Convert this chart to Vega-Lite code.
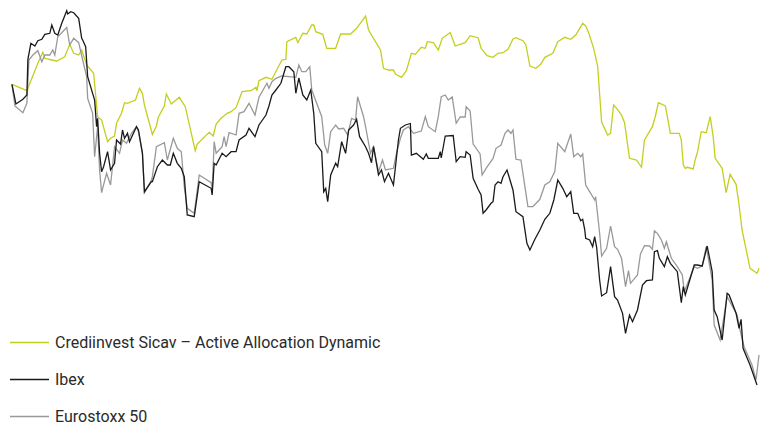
{
"$schema":"https://vega.github.io/schema/vega-lite/v6.json",
"width":762,"height":424,"padding":0,
"autosize":{"type":"fit","contains":"padding"},
"background":"#ffffff",
"config":{"view":{"stroke":null}},
"datasets":{
"C":[{"d":2,"v":0.17},{"d":17,"v":-0.47},{"d":28,"v":2.27},{"d":33,"v":3.37},{"d":35,"v":2.77},{"d":42,"v":2.6},{"d":47,"v":2.5},{"d":55,"v":2.93},{"d":60,"v":4.17},{"d":64,"v":3.27},{"d":69,"v":3.1},{"d":72,"v":3.6},{"d":77,"v":2.1},{"d":84,"v":1.27},{"d":88,"v":-3.07},{"d":92,"v":-3.4},{"d":98,"v":-5.57},{"d":101,"v":-5.23},{"d":105,"v":-5.0},{"d":107,"v":-3.73},{"d":112,"v":-2.73},{"d":115,"v":-1.67},{"d":118,"v":-1.73},{"d":126,"v":-1.4},{"d":130,"v":-0.23},{"d":133,"v":-0.73},{"d":135,"v":-1.9},{"d":143,"v":-4.83},{"d":147,"v":-4.0},{"d":149,"v":-3.1},{"d":155,"v":-2.0},{"d":157,"v":-0.8},{"d":162,"v":-1.8},{"d":170,"v":-1.13},{"d":176,"v":-2.07},{"d":186,"v":-6.47},{"d":188,"v":-5.8},{"d":200,"v":-4.63},{"d":204,"v":-5.0},{"d":207,"v":-3.8},{"d":212,"v":-3.23},{"d":218,"v":-2.73},{"d":222,"v":-2.57},{"d":227,"v":-2.17},{"d":233,"v":-0.57},{"d":242,"v":-0.47},{"d":247,"v":-0.13},{"d":248,"v":-0.47},{"d":250,"v":0.53},{"d":257,"v":0.87},{"d":263,"v":0.67},{"d":273,"v":2.6},{"d":277,"v":2.67},{"d":278,"v":4.43},{"d":287,"v":4.87},{"d":289,"v":4.33},{"d":294,"v":5.27},{"d":298,"v":5.2},{"d":303,"v":6.1},{"d":305,"v":6.1},{"d":307,"v":5.43},{"d":314,"v":5.17},{"d":318,"v":3.77},{"d":327,"v":3.77},{"d":332,"v":5.2},{"d":342,"v":5.2},{"d":348,"v":5.77},{"d":357,"v":7.0},{"d":360,"v":5.6},{"d":372,"v":3.6},{"d":375,"v":1.77},{"d":380,"v":1.6},{"d":385,"v":1.6},{"d":387,"v":1.2},{"d":393,"v":0.87},{"d":398,"v":1.53},{"d":403,"v":3.27},{"d":407,"v":3.17},{"d":413,"v":3.87},{"d":417,"v":3.77},{"d":419,"v":4.43},{"d":425,"v":4.33},{"d":430,"v":3.6},{"d":434,"v":4.77},{"d":442,"v":5.35},{"d":447,"v":4.0},{"d":457,"v":4.33},{"d":462,"v":5.03},{"d":470,"v":4.83},{"d":473,"v":3.77},{"d":479,"v":3.03},{"d":485,"v":2.87},{"d":490,"v":3.27},{"d":495,"v":3.33},{"d":500,"v":3.67},{"d":505,"v":4.7},{"d":508,"v":4.83},{"d":515,"v":4.53},{"d":518,"v":4.1},{"d":522,"v":2.0},{"d":528,"v":1.77},{"d":533,"v":2.2},{"d":537,"v":2.87},{"d":545,"v":3.27},{"d":550,"v":4.43},{"d":557,"v":4.87},{"d":563,"v":4.67},{"d":568,"v":5.1},{"d":575,"v":6.27},{"d":578,"v":6.0},{"d":581,"v":5.33},{"d":586,"v":3.77},{"d":590,"v":2.0},{"d":594,"v":-3.6},{"d":600,"v":-4.9},{"d":603,"v":-4.73},{"d":606,"v":-1.9},{"d":609,"v":-2.23},{"d":614,"v":-2.9},{"d":617,"v":-3.67},{"d":622,"v":-7.23},{"d":629,"v":-7.4},{"d":634,"v":-8.13},{"d":637,"v":-5.4},{"d":645,"v":-4.07},{"d":648,"v":-3.0},{"d":651,"v":-1.67},{"d":658,"v":-2.0},{"d":660,"v":-3.07},{"d":663,"v":-4.73},{"d":672,"v":-4.73},{"d":674,"v":-5.4},{"d":676,"v":-7.9},{"d":678,"v":-8.23},{"d":680,"v":-8.13},{"d":686,"v":-8.3},{"d":688,"v":-7.33},{"d":690,"v":-6.73},{"d":694,"v":-4.57},{"d":699,"v":-4.67},{"d":703,"v":-3.07},{"d":706,"v":-5.07},{"d":708,"v":-7.23},{"d":715,"v":-8.23},{"d":719,"v":-10.67},{"d":723,"v":-8.83},{"d":729,"v":-9.83},{"d":732,"v":-11.9},{"d":735,"v":-14.4},{"d":743,"v":-18.23},{"d":750,"v":-18.73},{"d":752,"v":-18.23}],
"I":[{"d":2,"v":0.17},{"d":6,"v":-1.8},{"d":13,"v":-1.33},{"d":17,"v":-0.9},{"d":18,"v":2.67},{"d":21,"v":4.27},{"d":25,"v":4.0},{"d":28,"v":4.53},{"d":32,"v":4.67},{"d":35,"v":5.17},{"d":40,"v":5.27},{"d":42,"v":6.1},{"d":45,"v":5.27},{"d":48,"v":5.1},{"d":52,"v":6.27},{"d":57,"v":7.53},{"d":58,"v":7.2},{"d":61,"v":7.43},{"d":64,"v":7.33},{"d":69,"v":6.77},{"d":72,"v":4.77},{"d":73,"v":4.6},{"d":76,"v":3.93},{"d":78,"v":0.93},{"d":85,"v":-1.4},{"d":87,"v":-4.07},{"d":88,"v":-3.23},{"d":90,"v":-6.73},{"d":92,"v":-8.57},{"d":94,"v":-8.07},{"d":98,"v":-6.57},{"d":101,"v":-8.4},{"d":105,"v":-7.73},{"d":107,"v":-5.4},{"d":111,"v":-5.8},{"d":113,"v":-4.4},{"d":115,"v":-5.23},{"d":118,"v":-4.73},{"d":120,"v":-5.57},{"d":127,"v":-4.07},{"d":129,"v":-4.4},{"d":133,"v":-6.73},{"d":135,"v":-10.57},{"d":142,"v":-9.57},{"d":143,"v":-9.57},{"d":148,"v":-8.07},{"d":153,"v":-7.4},{"d":158,"v":-7.9},{"d":161,"v":-7.9},{"d":164,"v":-6.73},{"d":168,"v":-7.73},{"d":172,"v":-8.23},{"d":175,"v":-9.07},{"d":178,"v":-12.9},{"d":185,"v":-13.07},{"d":190,"v":-9.57},{"d":202,"v":-10.23},{"d":203,"v":-10.9},{"d":205,"v":-7.73},{"d":207,"v":-7.9},{"d":213,"v":-6.73},{"d":217,"v":-7.07},{"d":222,"v":-6.57},{"d":227,"v":-6.57},{"d":230,"v":-5.4},{"d":237,"v":-4.9},{"d":240,"v":-4.23},{"d":246,"v":-5.07},{"d":250,"v":-3.9},{"d":257,"v":-2.9},{"d":260,"v":-2.0},{"d":263,"v":-0.9},{"d":267,"v":-0.4},{"d":272,"v":0.27},{"d":277,"v":1.93},{"d":280,"v":1.93},{"d":285,"v":1.43},{"d":287,"v":-0.73},{"d":290,"v":0.8},{"d":294,"v":-0.9},{"d":298,"v":-1.4},{"d":302,"v":-0.4},{"d":305,"v":-2.73},{"d":307,"v":-5.73},{"d":313,"v":-6.57},{"d":315,"v":-10.57},{"d":317,"v":-10.23},{"d":319,"v":-11.57},{"d":322,"v":-8.9},{"d":327,"v":-7.73},{"d":329,"v":-8.07},{"d":333,"v":-5.57},{"d":337,"v":-6.73},{"d":340,"v":-4.4},{"d":345,"v":-3.9},{"d":348,"v":-3.33},{"d":351,"v":-5.07},{"d":357,"v":-6.07},{"d":360,"v":-6.73},{"d":363,"v":-7.67},{"d":365,"v":-6.07},{"d":370,"v":-8.9},{"d":373,"v":-8.4},{"d":376,"v":-9.57},{"d":380,"v":-8.73},{"d":385,"v":-9.9},{"d":390,"v":-5.4},{"d":392,"v":-4.23},{"d":397,"v":-3.9},{"d":402,"v":-3.75},{"d":403,"v":-6.9},{"d":408,"v":-6.73},{"d":415,"v":-7.33},{"d":418,"v":-6.8},{"d":420,"v":-7.23},{"d":430,"v":-7.23},{"d":432,"v":-6.57},{"d":433,"v":-7.2},{"d":437,"v":-5.0},{"d":445,"v":-4.95},{"d":448,"v":-7.57},{"d":452,"v":-7.07},{"d":457,"v":-7.13},{"d":458,"v":-6.57},{"d":462,"v":-6.9},{"d":465,"v":-9.23},{"d":470,"v":-10.33},{"d":473,"v":-10.9},{"d":475,"v":-12.73},{"d":478,"v":-12.4},{"d":483,"v":-11.73},{"d":485,"v":-11.57},{"d":487,"v":-9.9},{"d":490,"v":-9.57},{"d":493,"v":-9.73},{"d":495,"v":-9.07},{"d":499,"v":-8.4},{"d":505,"v":-10.4},{"d":508,"v":-12.57},{"d":515,"v":-13.07},{"d":519,"v":-15.73},{"d":522,"v":-16.4},{"d":527,"v":-15.33},{"d":532,"v":-14.4},{"d":537,"v":-13.33},{"d":542,"v":-12.73},{"d":546,"v":-11.4},{"d":550,"v":-9.4},{"d":555,"v":-10.23},{"d":559,"v":-11.07},{"d":563,"v":-10.57},{"d":566,"v":-12.73},{"d":570,"v":-12.73},{"d":573,"v":-13.47},{"d":575,"v":-13.33},{"d":577,"v":-14.33},{"d":578,"v":-15.23},{"d":582,"v":-15.4},{"d":585,"v":-16.07},{"d":587,"v":-15.07},{"d":589,"v":-16.13},{"d":592,"v":-19.4},{"d":594,"v":-21.0},{"d":599,"v":-20.67},{"d":603,"v":-18.07},{"d":607,"v":-21.07},{"d":610,"v":-21.4},{"d":615,"v":-22.73},{"d":618,"v":-24.73},{"d":622,"v":-22.9},{"d":625,"v":-23.57},{"d":630,"v":-22.4},{"d":635,"v":-19.9},{"d":639,"v":-19.47},{"d":645,"v":-19.4},{"d":647,"v":-16.57},{"d":650,"v":-16.47},{"d":652,"v":-17.23},{"d":657,"v":-18.07},{"d":660,"v":-17.07},{"d":663,"v":-17.73},{"d":670,"v":-18.57},{"d":674,"v":-21.67},{"d":676,"v":-20.07},{"d":678,"v":-20.9},{"d":687,"v":-17.9},{"d":690,"v":-17.9},{"d":695,"v":-18.0},{"d":700,"v":-16.0},{"d":705,"v":-18.57},{"d":707,"v":-22.4},{"d":710,"v":-23.07},{"d":715,"v":-25.4},{"d":720,"v":-20.73},{"d":722,"v":-20.9},{"d":729,"v":-22.73},{"d":732,"v":-24.23},{"d":734,"v":-23.33},{"d":736,"v":-26.23},{"d":743,"v":-27.9},{"d":750,"v":-29.9}],
"E":[{"d":2,"v":0.17},{"d":5,"v":-2.0},{"d":13,"v":-2.67},{"d":17,"v":-1.73},{"d":19,"v":2.6},{"d":23,"v":3.1},{"d":28,"v":3.53},{"d":32,"v":2.43},{"d":35,"v":3.1},{"d":40,"v":3.1},{"d":43,"v":3.6},{"d":45,"v":3.1},{"d":48,"v":4.93},{"d":52,"v":5.33},{"d":57,"v":5.87},{"d":60,"v":4.1},{"d":64,"v":4.77},{"d":69,"v":4.33},{"d":73,"v":2.6},{"d":77,"v":0.93},{"d":78,"v":-1.23},{"d":83,"v":-2.73},{"d":85,"v":-7.07},{"d":88,"v":-4.07},{"d":90,"v":-8.4},{"d":92,"v":-10.67},{"d":97,"v":-8.73},{"d":101,"v":-9.9},{"d":105,"v":-6.07},{"d":110,"v":-6.73},{"d":113,"v":-5.4},{"d":117,"v":-5.73},{"d":122,"v":-4.73},{"d":127,"v":-4.07},{"d":129,"v":-4.57},{"d":133,"v":-6.73},{"d":135,"v":-10.67},{"d":142,"v":-9.4},{"d":143,"v":-9.07},{"d":147,"v":-6.07},{"d":155,"v":-5.67},{"d":158,"v":-7.4},{"d":164,"v":-5.23},{"d":168,"v":-6.23},{"d":172,"v":-6.57},{"d":175,"v":-10.07},{"d":178,"v":-12.23},{"d":185,"v":-12.73},{"d":190,"v":-8.9},{"d":202,"v":-9.67},{"d":203,"v":-10.4},{"d":205,"v":-5.57},{"d":207,"v":-6.73},{"d":213,"v":-6.07},{"d":215,"v":-5.07},{"d":217,"v":-6.07},{"d":220,"v":-4.67},{"d":227,"v":-4.9},{"d":230,"v":-2.73},{"d":235,"v":-2.57},{"d":240,"v":-1.73},{"d":246,"v":-2.9},{"d":250,"v":-1.13},{"d":258,"v":0.27},{"d":260,"v":-0.23},{"d":263,"v":0.43},{"d":267,"v":0.77},{"d":273,"v":1.0},{"d":280,"v":0.93},{"d":287,"v":0.87},{"d":290,"v":2.1},{"d":293,"v":1.43},{"d":297,"v":1.43},{"d":301,"v":1.93},{"d":303,"v":-0.4},{"d":313,"v":-3.07},{"d":316,"v":-5.9},{"d":319,"v":-6.73},{"d":322,"v":-4.57},{"d":327,"v":-3.9},{"d":330,"v":-4.3},{"d":335,"v":-4.23},{"d":339,"v":-4.9},{"d":343,"v":-3.23},{"d":347,"v":-3.4},{"d":349,"v":-1.07},{"d":355,"v":-3.07},{"d":357,"v":-4.07},{"d":362,"v":-6.73},{"d":365,"v":-6.07},{"d":370,"v":-8.57},{"d":374,"v":-7.4},{"d":377,"v":-8.4},{"d":385,"v":-8.23},{"d":388,"v":-6.73},{"d":392,"v":-5.23},{"d":395,"v":-4.4},{"d":400,"v":-4.07},{"d":405,"v":-4.73},{"d":413,"v":-4.5},{"d":417,"v":-3.07},{"d":420,"v":-4.07},{"d":427,"v":-4.57},{"d":430,"v":-3.07},{"d":433,"v":-1.07},{"d":437,"v":-0.9},{"d":440,"v":-1.4},{"d":444,"v":-1.1},{"d":448,"v":-3.73},{"d":452,"v":-3.1},{"d":457,"v":-3.1},{"d":458,"v":-2.07},{"d":462,"v":-2.5},{"d":465,"v":-5.8},{"d":472,"v":-6.8},{"d":474,"v":-8.9},{"d":478,"v":-8.23},{"d":485,"v":-7.25},{"d":488,"v":-6.23},{"d":493,"v":-5.9},{"d":497,"v":-4.73},{"d":500,"v":-4.4},{"d":503,"v":-4.73},{"d":505,"v":-4.4},{"d":508,"v":-7.33},{"d":513,"v":-7.4},{"d":518,"v":-10.73},{"d":520,"v":-12.07},{"d":525,"v":-12.07},{"d":532,"v":-11.33},{"d":537,"v":-9.9},{"d":542,"v":-9.57},{"d":547,"v":-8.55},{"d":550,"v":-5.73},{"d":557,"v":-6.57},{"d":563,"v":-4.8},{"d":566,"v":-7.07},{"d":570,"v":-6.73},{"d":573,"v":-7.07},{"d":575,"v":-6.8},{"d":578,"v":-9.9},{"d":582,"v":-10.57},{"d":587,"v":-11.4},{"d":588,"v":-11.07},{"d":592,"v":-14.73},{"d":594,"v":-17.0},{"d":599,"v":-16.23},{"d":603,"v":-14.0},{"d":607,"v":-16.07},{"d":610,"v":-16.33},{"d":614,"v":-17.23},{"d":618,"v":-20.07},{"d":621,"v":-18.47},{"d":623,"v":-19.73},{"d":630,"v":-18.9},{"d":633,"v":-16.8},{"d":637,"v":-15.97},{"d":642,"v":-16.0},{"d":645,"v":-16.33},{"d":647,"v":-14.47},{"d":650,"v":-14.73},{"d":654,"v":-15.4},{"d":657,"v":-16.23},{"d":659,"v":-15.57},{"d":662,"v":-16.57},{"d":664,"v":-17.23},{"d":670,"v":-18.07},{"d":675,"v":-18.9},{"d":677,"v":-20.57},{"d":687,"v":-18.07},{"d":690,"v":-18.23},{"d":695,"v":-18.0},{"d":699,"v":-16.07},{"d":705,"v":-19.4},{"d":707,"v":-23.9},{"d":713,"v":-25.4},{"d":720,"v":-21.07},{"d":730,"v":-22.9},{"d":733,"v":-24.4},{"d":737,"v":-26.07},{"d":745,"v":-27.9},{"d":749,"v":-29.4},{"d":752,"v":-26.9}]
},
"encoding":{
 "x":{"field":"d","type":"quantitative","scale":{"domain":[-10,752],"nice":false,"zero":false},"axis":null},
 "y":{"field":"v","type":"quantitative","scale":{"domain":[-33.8,8.6],"nice":false,"zero":false},"axis":null}
},
"layer":[
{"data":{"name":"C"},"mark":{"type":"line","strokeWidth":1.3,"clip":false},
 "encoding":{"color":{"datum":"C","type":"nominal",
  "scale":{"domain":["C","I","E"],"range":["#c3cf1e","#1a1a1a","#999999"]},
  "legend":{"title":null,"orient":"none","legendX":9,"legendY":322,"padding":0,"offset":0,
   "symbolType":"stroke","symbolSize":1521,"symbolStrokeWidth":1.3,"rowPadding":8,"labelOffset":5,
   "labelFont":"Roboto","labelFontSize":16,"labelColor":"#2a2a2a","labelLimit":600,
   "labelExpr":"datum.label == 'C' ? 'Crediinvest Sicav – Active Allocation Dynamic' : datum.label == 'I' ? 'Ibex' : 'Eurostoxx 50'"}}}},
{"data":{"name":"E"},"mark":{"type":"line","strokeWidth":1.3,"clip":false},
 "encoding":{"color":{"datum":"E","type":"nominal"}}},
{"data":{"name":"I"},"mark":{"type":"line","strokeWidth":1.3,"clip":false},
 "encoding":{"color":{"datum":"I","type":"nominal"}}}
]
}
